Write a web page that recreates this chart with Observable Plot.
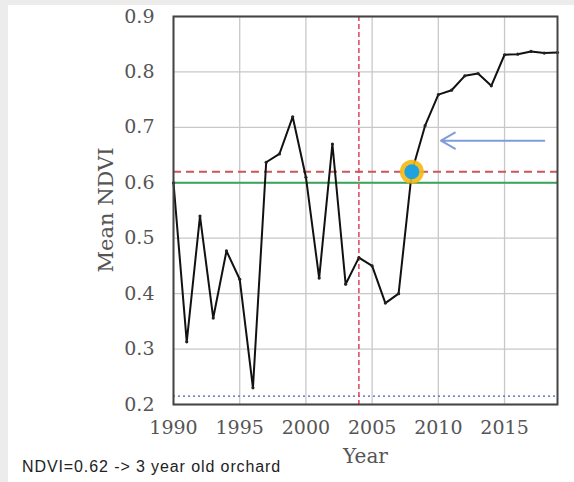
<!DOCTYPE html>
<html>
<head>
<meta charset="utf-8">
<script src="https://cdn.jsdelivr.net/npm/d3@7"></script>
<script src="https://cdn.jsdelivr.net/npm/@observablehq/plot@0.6"></script>
<style>
  html, body { margin: 0; padding: 0; background: #ffffff; }
  #wrap { position: relative; width: 574px; height: 482px; overflow: hidden; }
  #stripL { position: absolute; left: 0; top: 0; width: 8px; height: 482px; background: #ececec; }
  #stripT { position: absolute; left: 0; top: 0; width: 574px; height: 5px; background: #ececec; }
  #chart { position: absolute; left: 0; top: 0; }
  #ylabel { position: absolute; left: 5.5px; top: 197px; width: 200px; height: 26px; line-height: 26px; text-align: center;
            transform: rotate(-90deg); transform-origin: 100px 13px;
            font-family: "DejaVu Serif", serif; font-size: 21px; color: #555; white-space: nowrap; }
  #caption { position: absolute; left: 22px; top: 458px; font-family: "Liberation Sans", Arial, sans-serif; font-size: 16px; letter-spacing: 0.9px; color: #222; white-space: nowrap; }
</style>
</head>
<body>
<div id="wrap">
  <div id="stripL"></div>
  <div id="stripT"></div>
  <div id="chart"></div>
  <div id="ylabel">Mean NDVI</div>
  <div id="caption">NDVI=0.62 -&gt; 3 year old orchard</div>
</div>
<script>
const years = [1990,1991,1992,1993,1994,1995,1996,1997,1998,1999,2000,2001,2002,2003,2004,2005,2006,2007,2008,2009,2010,2011,2012,2013,2014,2015,2016,2017,2018,2019];
const ndvi  = [0.60,0.313,0.54,0.356,0.477,0.426,0.230,0.637,0.652,0.719,0.610,0.428,0.670,0.417,0.465,0.450,0.383,0.400,0.620,0.703,0.759,0.767,0.793,0.797,0.775,0.831,0.832,0.837,0.834,0.835];
const xTicks = [1990,1995,2000,2005,2010,2015];
const yTicks = [0.2,0.3,0.4,0.5,0.6,0.7,0.8,0.9];
const thresholdRed = [0.62];
const thresholdGreen = [0.60];
const baselineBlue = [0.215];
const eventYear = [2004];
const highlight = [{year: 2008, value: 0.62}];
const arrowData = [{x1: 2018, x2: 2010.2, y: 0.676}];

const data = years.map((y, i) => ({year: y, value: ndvi[i]}));
const serif = "'DejaVu Serif', serif";

const chart = Plot.plot({
  width: 574,
  height: 482,
  marginLeft: 173,
  marginRight: 17,
  marginTop: 16,
  marginBottom: 78,
  style: {background: "transparent", fontFamily: serif},
  x: {domain: [1990, 2019]},
  y: {domain: [0.2, 0.9]},
  marks: [
    Plot.gridX(xTicks, {stroke: "#c8c8c8", strokeOpacity: 1, strokeWidth: 1.3}),
    Plot.gridY(yTicks, {stroke: "#c8c8c8", strokeOpacity: 1, strokeWidth: 1.3}),
    Plot.axisX(xTicks, {tickSize: 0, tickPadding: 16, tickFormat: d => String(d), fontSize: 19, fill: "#555", label: null}),
    Plot.axisY(yTicks, {tickSize: 0, tickPadding: 19, tickFormat: d3.format(".1f"), fontSize: 19, fill: "#555", label: null}),
    Plot.ruleY(baselineBlue, {stroke: "#4a5db0", strokeWidth: 1.2, strokeDasharray: "2,3"}),
    Plot.ruleY(thresholdGreen, {stroke: "#3aa45e", strokeWidth: 2}),
    Plot.ruleY(thresholdRed, {stroke: "#c9575c", strokeWidth: 2, strokeDasharray: "8,5"}),
    Plot.ruleX(eventYear, {stroke: "#e0405a", strokeWidth: 1.5, strokeDasharray: "5,3"}),
    Plot.line(data, {x: "year", y: "value", stroke: "#111", strokeWidth: 2}),
    Plot.dot(data, {x: "year", y: "value", r: 1.6, fill: "#222"}),
    Plot.dot(highlight, {x: "year", y: "value", r: 12, fill: "#f5b70f", fillOpacity: 0.9}),
    Plot.dot(highlight, {x: "year", y: "value", r: 7.5, fill: "#1fa3df"}),
    Plot.arrow(arrowData, {x1: "x1", x2: "x2", y1: "y", y2: "y", stroke: "#7f9cd9", strokeWidth: 2, headLength: 12, bend: 0}),
    Plot.frame({stroke: "#444", strokeWidth: 2}),
    Plot.text(["Year"], {frameAnchor: "bottom", text: d => d, dy: 52, fontSize: 20, fill: "#555", lineAnchor: "middle"})
  ]
});
document.getElementById("chart").appendChild(chart);
</script>
</body>
</html>
